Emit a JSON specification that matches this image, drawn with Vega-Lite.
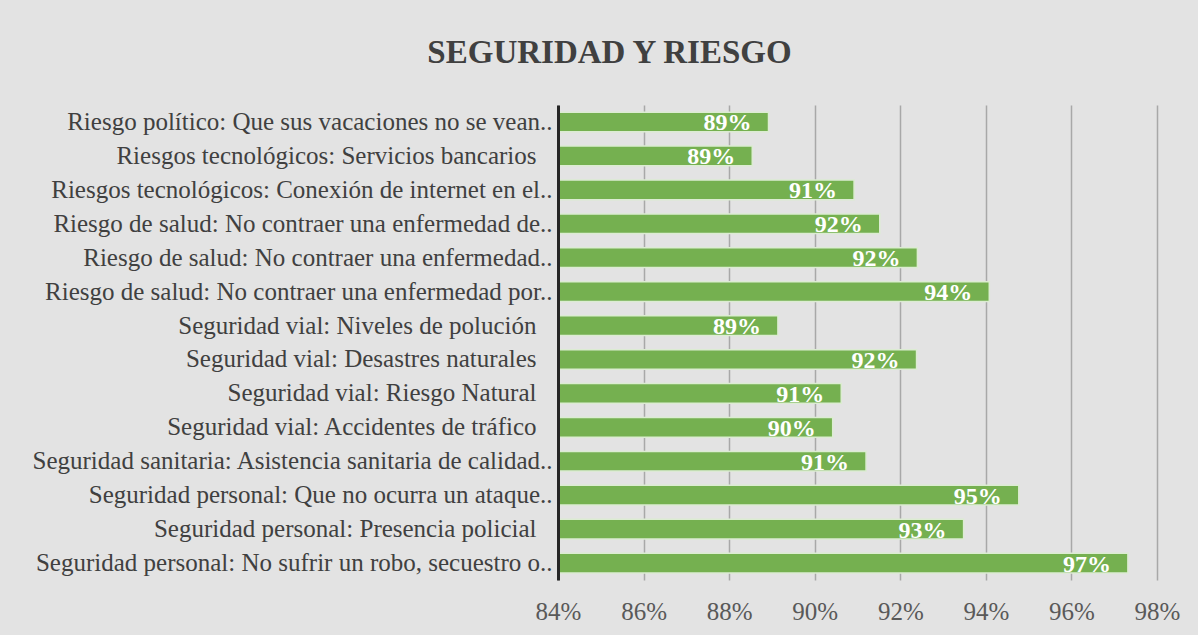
{
  "$schema": "https://vega.github.io/schema/vega-lite/v6.json",
  "autosize": {"type": "none"},
  "width": 599,
  "height": 475,
  "padding": {"left": 558, "top": 105, "right": 41, "bottom": 55},
  "background": "#e3e3e3",
  "title": {
    "text": "SEGURIDAD Y RIESGO",
    "font": "Liberation Serif, Times New Roman, serif",
    "fontSize": 33,
    "fontWeight": "bold",
    "color": "#404040",
    "anchor": "middle",
    "dx": -248,
    "offset": 35
  },
  "data": {
    "values": [
      {"item": "Riesgo político: Que sus vacaciones no se vean..", "pct": 0.8892},
      {"item": "Riesgos tecnológicos: Servicios bancarios", "pct": 0.8854},
      {"item": "Riesgos tecnológicos: Conexión de internet en el..", "pct": 0.9092},
      {"item": "Riesgo de salud: No contraer una enfermedad de..", "pct": 0.9152},
      {"item": "Riesgo de salud: No contraer una enfermedad..", "pct": 0.924},
      {"item": "Riesgo de salud: No contraer una enfermedad por..", "pct": 0.9408},
      {"item": "Seguridad vial: Niveles de polución", "pct": 0.8914},
      {"item": "Seguridad vial: Desastres naturales", "pct": 0.9238},
      {"item": "Seguridad vial: Riesgo Natural", "pct": 0.9062},
      {"item": "Seguridad vial: Accidentes de tráfico", "pct": 0.9042},
      {"item": "Seguridad sanitaria: Asistencia sanitaria de calidad..", "pct": 0.912},
      {"item": "Seguridad personal: Que no ocurra un ataque..", "pct": 0.9477},
      {"item": "Seguridad personal: Presencia policial", "pct": 0.9348},
      {"item": "Seguridad personal: No sufrir un robo, secuestro o..", "pct": 0.9732}
    ]
  },
  "encoding": {
    "y": {
      "field": "item",
      "type": "nominal",
      "sort": null,
      "scale": {"paddingInner": 0.42, "paddingOuter": 0.21},
      "axis": {
        "title": null,
        "labelFont": "Liberation Serif, Times New Roman, serif",
        "labelFontSize": 25,
        "labelColor": "#404040",
        "labelLimit": 0,
        "labelPadding": {"condition": {"test": "indexof(datum.value, '..') < 0", "value": 22}, "value": 6},
        "ticks": false,
        "domain": true,
        "domainColor": "#262626",
        "domainWidth": 3,
        "grid": false,
        "zindex": 1
      }
    },
    "x": {
      "field": "pct",
      "type": "quantitative",
      "scale": {"domain": [0.84, 0.98], "zero": false, "nice": false},
      "axis": {
        "title": null,
        "values": [0.84, 0.86, 0.88, 0.9, 0.92, 0.94, 0.96, 0.98],
        "format": ".0%",
        "labelFont": "Liberation Serif, Times New Roman, serif",
        "labelFontSize": 25,
        "labelColor": "#595959",
        "labelPadding": 19,
        "ticks": false,
        "domain": false,
        "grid": true,
        "gridColor": "#a8a8a8",
        "gridWidth": 1.5,
        "labelFlush": false
      }
    }
  },
  "layer": [
    {
      "mark": {"type": "bar", "fill": "#75b050", "stroke": "#dcecd2", "strokeWidth": 1.5},
      "encoding": {"x2": {"datum": 0.84}}
    },
    {
      "mark": {
        "type": "text",
        "align": "right",
        "baseline": "alphabetic",
        "dx": -17,
        "dy": 8.5,
        "font": "Liberation Serif, Times New Roman, serif",
        "fontSize": 24,
        "fontWeight": "bold",
        "fill": "#ffffff"
      },
      "encoding": {"text": {"field": "pct", "type": "quantitative", "format": ".0%"}}
    }
  ],
  "config": {"view": {"stroke": null}}
}
